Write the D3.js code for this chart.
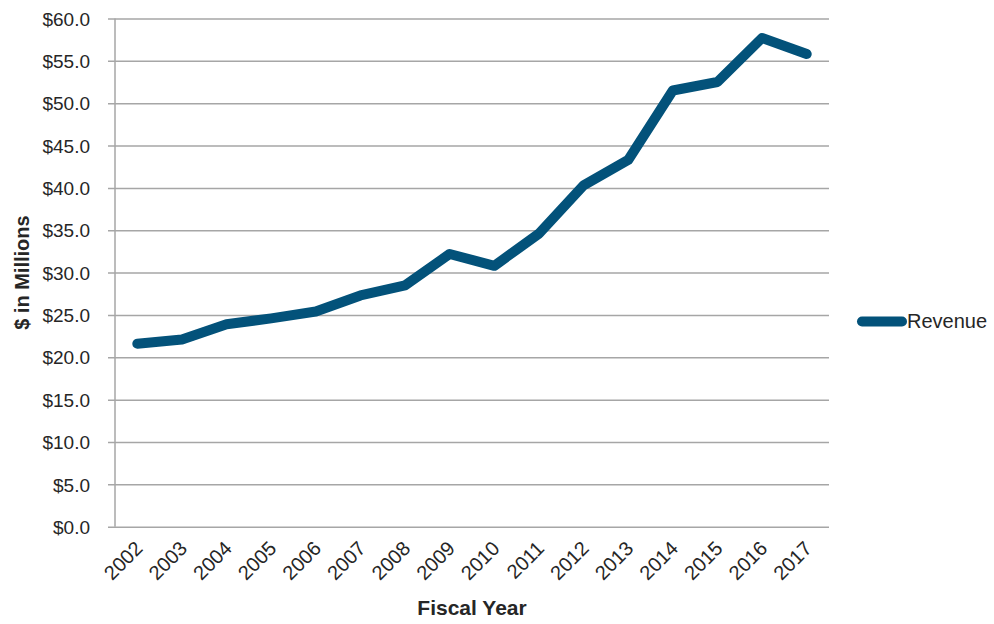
<!DOCTYPE html>
<head>
  <title>Revenue by fiscal year</title>
</head>
<meta charset="utf-8">

<script src="https://d3js.org/d3.v7.min.js"></script>

<style>
body { margin: 0; background: #fff; }
text { font-family: "Liberation Sans", Arial, sans-serif; fill: #262626; }
</style>

<div id="my_dataviz"></div>

<script>

// data
var years = ["2002", "2003", "2004", "2005", "2006", "2007", "2008", "2009",
             "2010", "2011", "2012", "2013", "2014", "2015", "2016", "2017"];
var revenue = [21.6, 22.1, 23.9, 24.6, 25.4, 27.3, 28.5, 32.2,
               30.8, 34.6, 40.3, 43.3, 51.5, 52.5, 57.7, 55.8];
var yTicks = [0, 5, 10, 15, 20, 25, 30, 35, 40, 45, 50, 55, 60];
var seriesName = "Revenue";

var W = 994, H = 624;
var margin = {left: 115, right: 829, top: 18.5, bottom: 526.7};
var lineColor = "#03527a";

var svg = d3.select("#my_dataviz")
  .append("svg")
    .attr("width", W)
    .attr("height", H);

var x = d3.scalePoint()
  .domain(years)
  .range([margin.left, margin.right])
  .padding(0.5);

var y = d3.scaleLinear()
  .domain([0, 60])
  .range([margin.bottom, margin.top]);

// gridlines + y labels
var yAxis = svg.append("g")
  .attr("transform", "translate(" + margin.left + ",0)")
  .call(d3.axisLeft(y)
    .tickValues(yTicks)
    .tickSize(-(margin.right - margin.left))
    .tickFormat(function(d){ return "$" + d3.format(".1f")(d); }));
yAxis.select(".domain").remove();
yAxis.selectAll(".tick line")
  .attr("x1", -7)
  .attr("stroke", "#a6a6a6")
  .attr("stroke-width", 1.5);
yAxis.selectAll(".tick text")
  .style("font-size", "19px")
  .attr("fill", "#262626")
  .attr("x", -25)
  .attr("dy", "0.35em");

// vertical axis line
svg.append("line")
  .attr("x1", margin.left).attr("x2", margin.left)
  .attr("y1", margin.top).attr("y2", margin.bottom)
  .attr("stroke", "#a6a6a6")
  .attr("stroke-width", 1.5);

// x labels, rotated
var xAxis = svg.append("g")
  .attr("transform", "translate(0," + margin.bottom + ")")
  .call(d3.axisBottom(x).tickSize(0).tickPadding(0));
xAxis.select(".domain").remove();
xAxis.selectAll(".tick text")
  .style("font-size", "20px")
  .attr("fill", "#262626")
  .attr("text-anchor", "end")
  .attr("dy", null)
  .attr("y", null)
  .attr("transform", "translate(6,23) rotate(-45)");

// the revenue line
var line = d3.line()
  .x(function(d, i){ return x(years[i]); })
  .y(function(d){ return y(d); });

svg.append("path")
  .datum(revenue)
  .attr("fill", "none")
  .attr("stroke", lineColor)
  .attr("stroke-width", 10)
  .attr("stroke-linecap", "round")
  .attr("stroke-linejoin", "round")
  .attr("d", line);

// axis titles
svg.append("text")
  .attr("x", 472)
  .attr("y", 615)
  .attr("text-anchor", "middle")
  .style("font-size", "21px")
  .style("font-weight", "bold")
  .text("Fiscal Year");

svg.append("text")
  .attr("transform", "translate(29," + ((margin.top + margin.bottom) / 2) + ") rotate(-90)")
  .attr("text-anchor", "middle")
  .style("font-size", "20px")
  .style("font-weight", "bold")
  .text("$ in Millions");

// legend
svg.append("line")
  .attr("x1", 862).attr("x2", 902)
  .attr("y1", 321.5).attr("y2", 321.5)
  .attr("stroke", lineColor)
  .attr("stroke-width", 10)
  .attr("stroke-linecap", "round");

svg.append("text")
  .attr("x", 907)
  .attr("y", 328)
  .style("font-size", "20px")
  .text(seriesName);

</script>
